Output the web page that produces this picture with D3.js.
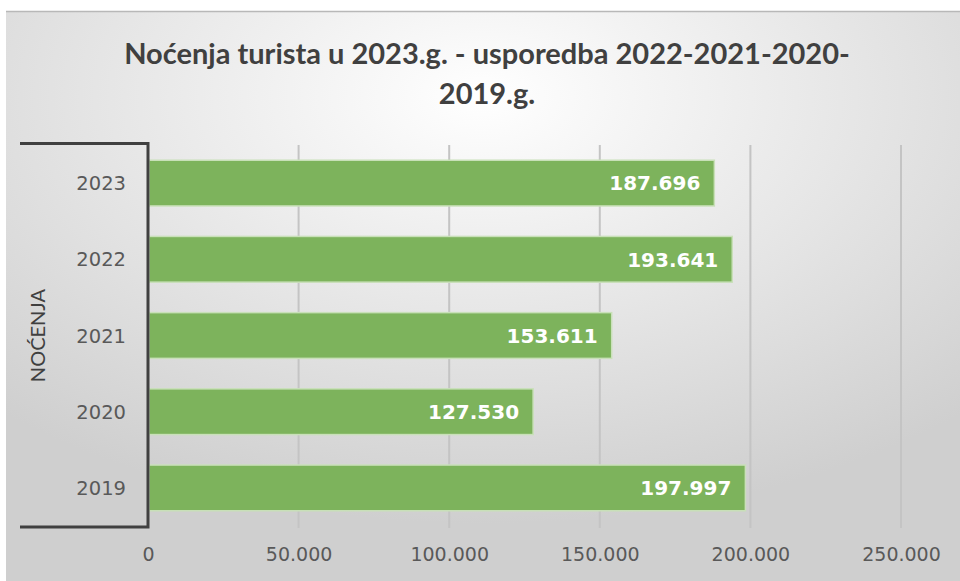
<!DOCTYPE html>
<html>
<head>
<meta charset="utf-8">
<script src="https://cdn.jsdelivr.net/npm/d3@7"></script>
<style>
  body { margin: 0; background: #fff; }
  svg { display: block; }
</style>
</head>
<body>
<script>
// chart values
const years = ["2023", "2022", "2021", "2020", "2019"];
const nights = [187696, 193641, 153611, 127530, 197997];
const xTicks = [0, 50000, 100000, 150000, 200000, 250000];

const w = 960, h = 581;
const plotLeft = 148, plotRight = 901, plotTop = 145, plotBottom = 526;
const labelFont = "'DejaVu Sans', sans-serif";

const svg = d3.select("body").append("svg")
  .attr("width", w)
  .attr("height", h);

// background panel with soft radial shading
const defs = svg.append("defs");
const grad = defs.append("radialGradient")
  .attr("id", "bg")
  .attr("cx", "50%").attr("cy", "15%").attr("r", "75%");
grad.append("stop").attr("offset", "0%").attr("stop-color", "#ffffff");
grad.append("stop").attr("offset", "100%").attr("stop-color", "#cfcfcf");

svg.append("rect")
  .attr("x", 6).attr("y", 11)
  .attr("width", w - 6).attr("height", h - 11)
  .attr("fill", "url(#bg)");
svg.append("line")
  .attr("x1", 6).attr("x2", w).attr("y1", 11.5).attr("y2", 11.5)
  .attr("stroke", "#b8b8b8").attr("stroke-width", 1.5);

// title
const title = svg.append("text")
  .attr("text-anchor", "middle")
  .attr("font-family", "Lato, 'Open Sans', sans-serif")
  .attr("font-weight", "bold")
  .attr("font-size", 29)
  .attr("fill", "#404040");
title.append("tspan").attr("x", 487).attr("y", 64)
  .text("Noćenja turista u 2023.g. - usporedba 2022-2021-2020-");
title.append("tspan").attr("x", 487).attr("y", 104)
  .text("2019.g.");

// scales
const x = d3.scaleLinear().domain([0, 250000]).range([plotLeft, plotRight]);
const y = d3.scaleBand().domain(years).range([plotTop, plotBottom]).paddingInner(0.4).paddingOuter(0.2);

// gridlines
svg.append("g")
  .selectAll("line")
  .data(xTicks.slice(1))
  .join("line")
  .attr("x1", d => x(d)).attr("x2", d => x(d))
  .attr("y1", plotTop).attr("y2", plotBottom + 2)
  .attr("stroke", "#c4c4c4")
  .attr("stroke-width", 2);

// x axis labels
const xAxis = svg.append("g")
  .attr("transform", `translate(0, ${plotBottom})`)
  .call(d3.axisBottom(x)
    .tickValues(xTicks)
    .tickSize(0)
    .tickPadding(22)
    .tickFormat(d => d3.format(",")(d).replace(/,/g, ".")));
xAxis.select(".domain").remove();
xAxis.selectAll("text")
  .attr("font-family", labelFont)
  .attr("font-size", 19)
  .attr("fill", "#595959");

// bars
svg.append("g")
  .selectAll("rect")
  .data(years)
  .join("rect")
  .attr("x", x(0) + 1)
  .attr("y", d => y(d))
  .attr("width", (d, i) => x(nights[i]) - x(0))
  .attr("height", y.bandwidth())
  .attr("fill", "#7db35c")
  .attr("stroke", "#c9e0b9")
  .attr("stroke-width", 1.5);

// value labels
svg.append("g")
  .selectAll("text")
  .data(years)
  .join("text")
  .attr("x", (d, i) => x(nights[i]) - 13)
  .attr("y", d => y(d) + y.bandwidth() / 2)
  .attr("dy", "0.36em")
  .attr("text-anchor", "end")
  .attr("font-family", labelFont)
  .attr("font-weight", "bold")
  .attr("font-size", 20)
  .attr("fill", "#ffffff")
  .text((d, i) => d3.format(",")(nights[i]).replace(/,/g, "."));

// category labels
svg.append("g")
  .selectAll("text")
  .data(years)
  .join("text")
  .attr("x", 126)
  .attr("y", d => y(d) + y.bandwidth() / 2)
  .attr("dy", "0.36em")
  .attr("text-anchor", "end")
  .attr("font-family", labelFont)
  .attr("font-size", 19.5)
  .attr("fill", "#595959")
  .text(d => d);

// multilevel bracket
const axisColor = "#404040";
svg.append("path")
  .attr("d", `M20,${plotTop - 1.5}H${plotLeft}V${plotBottom + 1}H20`)
  .attr("fill", "none")
  .attr("stroke", axisColor)
  .attr("stroke-width", 3);

svg.append("text")
  .attr("transform", `translate(45, ${(plotTop + plotBottom) / 2}) rotate(-90)`)
  .attr("text-anchor", "middle")
  .attr("font-family", "Lato, 'Open Sans', sans-serif")
  .attr("font-size", 20)
  .attr("fill", "#404040")
  .text("NOĆENJA");
</script>
</body>
</html>
